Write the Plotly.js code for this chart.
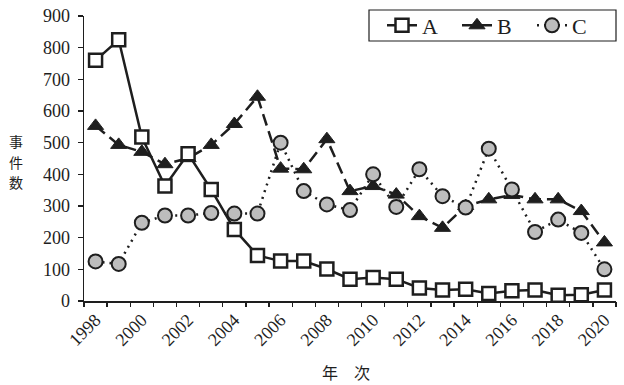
<!DOCTYPE html>
<html>
<head>
<meta charset="utf-8">
<script src="https://cdn.plot.ly/plotly-3.0.1.min.js"></script>
<style>html,body{margin:0;padding:0;background:#fff;}#chart{width:624px;height:385px;}</style>
</head>
<body>
<div id="chart"></div>
<script>
const years = [1998,1999,2000,2001,2002,2003,2004,2005,2006,2007,2008,2009,2010,2011,2012,2013,2014,2015,2016,2017,2018,2019,2020];
const seriesA = [760,825,518,363,465,352,226,144,126,126,101,69,74,69,41,35,37,24,32,35,18,20,35];
const seriesB = [553,493,471,432,451,493,559,645,418,416,511,347,363,336,268,231,300,321,335,321,321,284,185];
const seriesC = [125,117,247,270,270,278,276,276,500,347,305,287,400,297,416,331,295,481,352,218,257,215,100];
const tickYears = [1998,2000,2002,2004,2006,2008,2010,2012,2014,2016,2018,2020];
const tickLabels = tickYears.map(String);
const boundaryTicks = years.map(y => y - 0.5).concat([years[years.length-1] + 0.5]);
const yTicks = [0,100,200,300,400,500,600,700,800,900];
const names = ['A','B','C'];
const yTitleChars = ['事','件','数'];
const xTitle = '年　次';

const ink = '#1e1e1e';
const serif = 'Liberation Serif, DejaVu Serif, serif';
const cjk = 'Noto Sans CJK JP, sans-serif';

const traceB = {
  x: years, y: seriesB, name: names[1], type: 'scatter', mode: 'lines+markers', legendrank: 2,
  line: {color: ink, width: 2.5, dash: '12px,6px'},
  marker: {symbol: 'triangle-up', size: 14, color: ink, line: {color: ink, width: 1}}
};
const traceC = {
  x: years, y: seriesC, name: names[2], type: 'scatter', mode: 'lines+markers', legendrank: 3,
  line: {color: ink, width: 2.5, dash: '2px,5px'},
  marker: {symbol: 'circle', size: 14, color: '#bdbdbd', line: {color: ink, width: 2}}
};
const traceA = {
  x: years, y: seriesA, name: names[0], type: 'scatter', mode: 'lines+markers', legendrank: 1,
  line: {color: ink, width: 2.5},
  marker: {symbol: 'square', size: 13, color: '#ffffff', line: {color: ink, width: 2.5}}
};
const tickGhost = {
  x: [years[0]], y: [0], xaxis: 'x2', yaxis: 'y', type: 'scatter', mode: 'none',
  showlegend: false, hoverinfo: 'skip'
};

// pixel helpers (plot area: x 84..616, y 16..301)
const px = v => (v - 84) / 532;
const py = v => (301 - v) / 285;

const annotations = yTitleChars.map((ch, i) => ({
  text: ch, xref: 'paper', yref: 'paper', x: px(16), y: py(141 + i * 20.5),
  xanchor: 'center', yanchor: 'middle', showarrow: false, borderpad: 0,
  font: {family: cjk, size: 14, color: ink}
}));
annotations.push({
  text: xTitle, xref: 'paper', yref: 'paper', x: px(346), y: py(372),
  xanchor: 'center', yanchor: 'middle', showarrow: false,
  font: {family: cjk, size: 16, color: ink}
});

const layout = {
  width: 624, height: 385,
  margin: {l: 84, r: 8, t: 16, b: 84, autoexpand: false},
  paper_bgcolor: '#fff', plot_bgcolor: '#fff',
  font: {family: serif, color: ink, size: 18},
  showlegend: true,
  legend: {
    orientation: 'h', x: px(382), xanchor: 'left', y: py(25.5), yanchor: 'middle',
    borderwidth: 0, bgcolor: 'rgba(0,0,0,0)',
    font: {family: serif, size: 22, color: ink},
    itemwidth: 30, entrywidth: 30
  },
  shapes: [{
    type: 'rect', xref: 'paper', yref: 'paper',
    x0: px(369), x1: px(616), y0: py(41), y1: py(10),
    line: {color: ink, width: 1.2}, fillcolor: 'rgba(0,0,0,0)', layer: 'above'
  }],
  xaxis: {
    range: [1997.5, 2020.5], tickmode: 'array', tickvals: tickYears, ticktext: tickLabels,
    tickangle: -45, ticks: '', showgrid: false, zeroline: false,
    showline: true, linecolor: ink, linewidth: 1.5,
    tickfont: {family: serif, size: 18, color: ink}
  },
  xaxis2: {
    overlaying: 'x', anchor: 'y', side: 'bottom', range: [1997.5, 2020.5],
    tickmode: 'array', tickvals: boundaryTicks, ticks: 'outside', ticklen: 5, tickwidth: 1.3,
    tickcolor: ink, showticklabels: false, showgrid: false, zeroline: false, showline: false
  },
  yaxis: {
    range: [0, 900], tickmode: 'array', tickvals: yTicks, ticks: 'outside', ticklen: 5, tickwidth: 1.3,
    tickcolor: ink, showgrid: false, zeroline: false, showline: true, linecolor: ink, linewidth: 1.5,
    ticklabelstandoff: 4,
    tickfont: {family: serif, size: 18, color: ink}
  },
  annotations: annotations
};

Plotly.newPlot('chart', [traceB, traceC, traceA, tickGhost], layout, {staticPlot: true});
</script>
</body>
</html>
